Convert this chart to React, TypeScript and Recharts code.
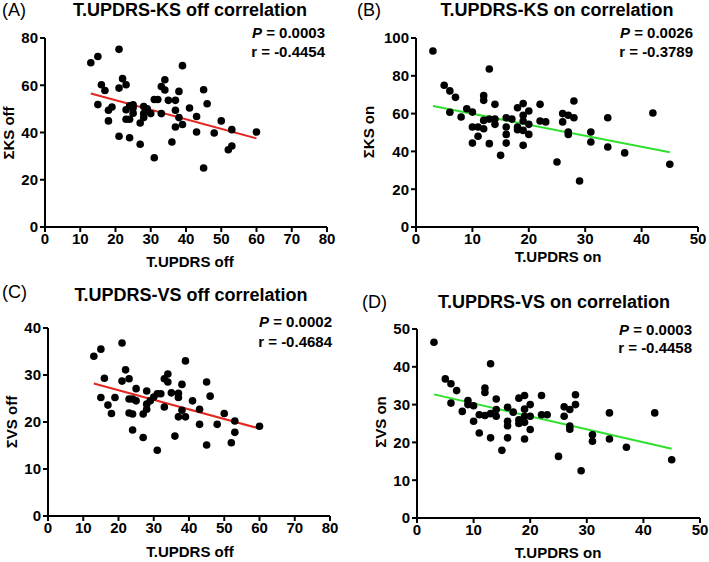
import React from 'react';
import { ScatterChart, Scatter, XAxis, YAxis, ReferenceLine } from 'recharts';

const FONT = '"Liberation Sans", Arial, Helvetica, sans-serif';

// (A) T.UPDRS off vs ΣKS off
const ksOffX = [13, 15, 21, 16, 17, 15, 18, 19, 18, 21, 22, 23, 21, 24, 23, 24, 25, 23, 24, 25, 25, 27, 27, 28, 29, 28, 28, 30, 31, 32, 31, 33, 34, 34, 33, 35, 36, 37, 37, 37, 38, 38, 39, 39, 41, 43, 43, 45, 45, 46, 48, 50, 52, 53, 53, 60];
const ksOffY = [69.5, 72.2, 75.2, 60.2, 57.8, 51.8, 49.4, 50.8, 44.9, 58.8, 62.8, 60.2, 38.4, 37.8, 49.6, 51.3, 51.7, 45.6, 45.6, 48.2, 50.5, 44, 35, 51, 50, 48, 46.3, 48, 54, 54, 29.3, 59.5, 62.3, 58, 48, 53.6, 36, 53.6, 49.4, 42.3, 57.4, 46.3, 68.3, 43.4, 50.4, 46.8, 40.2, 58.1, 25, 52.2, 39.8, 44.9, 32.7, 34.3, 41.2, 40.2];
const ksOffFit = [13, 56.5, 60, 37.5];

// (B) T.UPDRS on vs ΣKS on
const ksOnX = [3, 5, 6, 7, 6, 8, 9, 10, 10, 10, 11, 11, 12, 12, 12, 12, 13, 13, 13, 14, 14, 14, 15, 16, 16, 16, 16, 17, 18, 18, 18, 19, 19, 19, 19, 19, 20, 20, 20, 22, 22, 23, 25, 26, 26, 27, 27, 27, 28, 28, 29, 31, 31, 34, 34, 37, 42, 45];
const ksOnY = [93.1, 75, 72, 68.6, 60.7, 58.2, 62.6, 60.8, 52.9, 44.4, 52.9, 48, 69.5, 67, 56.4, 52, 83.6, 57.1, 44.1, 64.9, 57.1, 54.3, 37.9, 57.8, 52.9, 49, 44.4, 57.1, 63.1, 52.9, 51.5, 65.3, 59.1, 56.1, 43.2, 51.1, 61.4, 54.3, 49, 64.9, 56.1, 55.6, 34.4, 60, 55.6, 59.1, 50.3, 49, 57.8, 66.7, 24.3, 50.3, 45, 57.8, 42.3, 39.2, 60.3, 33.2];
const ksOnFit = [3, 64, 45, 39.5];

// (C) T.UPDRS off vs ΣVS off
const vsOffX = [13, 15, 16, 15, 17, 18, 19, 21, 21, 22, 23, 23, 23, 24, 24, 24, 25, 25, 27, 27, 28, 28, 28, 29, 30, 31, 31, 32, 33, 33, 34, 34, 35, 36, 37, 37, 37, 38, 38, 39, 39, 41, 43, 43, 45, 45, 46, 48, 50, 52, 53, 53, 60];
const vsOffY = [34, 35.5, 29.3, 25.2, 23.6, 21.8, 25.2, 36.8, 28.7, 31.1, 29.2, 24.9, 21.9, 21.7, 18.3, 24.9, 27.1, 24.5, 21.7, 16.7, 26.6, 23.8, 22.7, 24.5, 25.3, 14, 26, 26, 23.2, 29.2, 30.2, 28.5, 26.2, 17, 26.1, 25.2, 21.1, 28, 22.5, 33, 21.1, 24.5, 22.7, 19.5, 28.5, 15.1, 25.5, 19.5, 21.8, 15.6, 20.2, 17.8, 19.1];
const vsOffFit = [13, 28.2, 60, 18.6];

// (D) T.UPDRS on vs ΣVS on
const vsOnX = [3, 5, 6, 6, 7, 8, 9, 9, 10, 10, 11, 11, 12, 12, 12, 13, 13, 13, 14, 14, 14, 15, 16, 16, 16, 16, 17, 18, 18, 18, 19, 19, 19, 19, 19, 20, 20, 20, 22, 22, 23, 25, 26, 26, 27, 27, 27, 28, 28, 29, 31, 31, 34, 34, 37, 42, 45];
const vsOnY = [46.5, 36.8, 35.5, 30.4, 33.7, 28.2, 31.1, 30, 29.7, 25.6, 27.3, 22.5, 34.4, 33.2, 27.1, 40.8, 27.6, 21.2, 31.5, 28.7, 26.9, 17.9, 29.3, 25.6, 24.4, 21.2, 28, 31.7, 26, 25, 32.4, 28.8, 26.9, 20.9, 25.3, 30, 26.9, 23.4, 32.4, 27.3, 27.3, 16.3, 29.4, 26.9, 28.7, 24.3, 23.5, 32.6, 30, 12.5, 22, 20.3, 27.8, 20.9, 18.7, 27.8, 15.4];
const vsOnFit = [3, 32.7, 45, 18.3];

const offTicks = [0, 10, 20, 30, 40, 50, 60, 70, 80];
const onTicks = [0, 10, 20, 30, 40, 50];
const ksOffTicks = [0, 20, 40, 60, 80];
const ksOnTicks = [0, 20, 40, 60, 80, 100];
const vsOffTicks = [0, 10, 20, 30, 40];
const vsOnTicks = [0, 10, 20, 30, 40, 50];

const RED = '#e3261f';
const GREEN = '#2fe02f';

type PanelProps = {
  left: number; top: number; width: number; height: number;
  axisX: number; plotTop: number; plotBottom: number; plotRight: number;
  xs: number[]; ys: number[]; fit: number[]; color: string;
  xTicks: number[]; yTicks: number[];
  letter: string; letterX: number; letterY: number;
  title: string; titleX: number; titleY: number;
  p: string; r: string; statRight: number; pY: number; rY: number;
  xLabel: string; xLabelX: number; xLabelY: number;
  yLabel: string; yLabelX: number; yLabelY: number;
};

const Dot = (props: any) => {
  const { cx, cy } = props;
  if (cx == null || cy == null) return null;
  return <circle cx={cx} cy={cy} r={3.8} fill="#000" />;
};

function Panel(p: PanelProps) {
  const data = p.xs.map((x, i) => ({ x, y: p.ys[i] }));
  const tickStyle = { fill: '#000', fontSize: 15, fontWeight: 700, fontFamily: FONT };
  const txt: React.CSSProperties = { position: 'absolute', fontFamily: FONT, color: '#000', whiteSpace: 'nowrap', lineHeight: '16px' };
  return (
    <div style={{ position: 'absolute', left: p.left, top: p.top, width: p.width, height: p.height }}>
      <ScatterChart
        width={p.width}
        height={p.height}
        margin={{ top: p.plotTop, right: p.width - p.plotRight, bottom: 0, left: 0 }}
      >
        <XAxis
          type="number"
          dataKey="x"
          domain={[0, p.xTicks[p.xTicks.length - 1]]}
          ticks={p.xTicks}
          interval={0}
          height={p.height - p.plotBottom}
          allowDataOverflow
          axisLine={{ stroke: '#000', strokeWidth: 2 }}
          tickLine={{ stroke: '#000', strokeWidth: 2 }}
          tickSize={5}
          tickMargin={1}
          tick={tickStyle}
        />
        <YAxis
          type="number"
          dataKey="y"
          domain={[0, p.yTicks[p.yTicks.length - 1]]}
          ticks={p.yTicks}
          interval={0}
          width={p.axisX}
          allowDataOverflow
          axisLine={{ stroke: '#000', strokeWidth: 2 }}
          tickLine={{ stroke: '#000', strokeWidth: 2 }}
          tickSize={5}
          tickMargin={2}
          tick={tickStyle}
        />
        <Scatter data={data} isAnimationActive={false} shape={Dot} />
        <ReferenceLine
          segment={[{ x: p.fit[0], y: p.fit[1] }, { x: p.fit[2], y: p.fit[3] }]}
          stroke={p.color}
          strokeWidth={2}
          ifOverflow="visible"
        />
      </ScatterChart>
      <div style={{ ...txt, left: p.letterX, top: Math.max(0, p.letterY - 10), fontSize: 18, lineHeight: '20px' }}>{p.letter}</div>
      <div style={{ ...txt, left: p.titleX - 200, width: 400, textAlign: 'center', top: Math.max(0, p.titleY - 10), fontSize: 18, fontWeight: 700, lineHeight: '20px' }}>{p.title}</div>
      <div style={{ ...txt, right: p.width - p.statRight, top: p.pY - 8, fontSize: 15, fontWeight: 700, textAlign: 'right' }}>
        <i>P</i> = {p.p}
      </div>
      <div style={{ ...txt, right: p.width - p.statRight, top: p.rY - 8, fontSize: 15, fontWeight: 700, textAlign: 'right' }}>
        r = {p.r}
      </div>
      <div style={{ ...txt, left: p.xLabelX - 100, width: 200, textAlign: 'center', top: p.xLabelY - 8, fontSize: 15, fontWeight: 700 }}>{p.xLabel}</div>
      <div style={{ ...txt, left: p.yLabelX - 60, width: 120, textAlign: 'center', top: p.yLabelY - 8, fontSize: 15, fontWeight: 700, transform: 'rotate(-90deg)' }}>{p.yLabel}</div>
    </div>
  );
}

export default function App() {
  return (
    <div style={{ position: 'absolute', left: 0, top: 0, width: 709, height: 562, background: '#fff', overflow: 'hidden' }}>
      <Panel
        left={0} top={0} width={355} height={280}
        axisX={45} plotTop={38} plotBottom={227} plotRight={327}
        xs={ksOffX} ys={ksOffY} fit={ksOffFit} color={RED}
        xTicks={offTicks} yTicks={ksOffTicks}
        letter="(A)" letterX={2} letterY={9}
        title="T.UPDRS-KS off correlation" titleX={190} titleY={10}
        p="0.0003" r="-0.4454" statRight={325} pY={33} rY={52}
        xLabel="T.UPDRS off" xLabelX={190} xLabelY={262}
        yLabel="ΣKS off" yLabelX={9} yLabelY={133}
      />
      <Panel
        left={355} top={0} width={354} height={280}
        axisX={61} plotTop={38} plotBottom={227} plotRight={343}
        xs={ksOnX} ys={ksOnY} fit={ksOnFit} color={GREEN}
        xTicks={onTicks} yTicks={ksOnTicks}
        letter="(B)" letterX={2} letterY={9}
        title="T.UPDRS-KS on correlation" titleX={202} titleY={10}
        p="0.0026" r="-0.3789" statRight={338} pY={33} rY={52}
        xLabel="T.UPDRS on" xLabelX={203} xLabelY={257}
        yLabel="ΣKS on" yLabelX={14} yLabelY={132}
      />
      <Panel
        left={0} top={280} width={355} height={282}
        axisX={48} plotTop={48} plotBottom={236} plotRight={330}
        xs={vsOffX} ys={vsOffY} fit={vsOffFit} color={RED}
        xTicks={offTicks} yTicks={vsOffTicks}
        letter="(C)" letterX={2} letterY={12}
        title="T.UPDRS-VS off correlation" titleX={191} titleY={15}
        p="0.0002" r="-0.4684" statRight={332} pY={42} rY={62}
        xLabel="T.UPDRS off" xLabelX={190} xLabelY={272}
        yLabel="ΣVS off" yLabelX={12} yLabelY={142}
      />
      <Panel
        left={355} top={280} width={354} height={282}
        axisX={62} plotTop={49} plotBottom={238} plotRight={345}
        xs={vsOnX} ys={vsOnY} fit={vsOnFit} color={GREEN}
        xTicks={onTicks} yTicks={vsOnTicks}
        letter="(D)" letterX={7} letterY={22}
        title="T.UPDRS-VS on correlation" titleX={199} titleY={22}
        p="0.0003" r="-0.4458" statRight={337} pY={50} rY={68}
        xLabel="T.UPDRS on" xLabelX={203} xLabelY={273}
        yLabel="ΣVS on" yLabelX={26} yLabelY={142}
      />
    </div>
  );
}
